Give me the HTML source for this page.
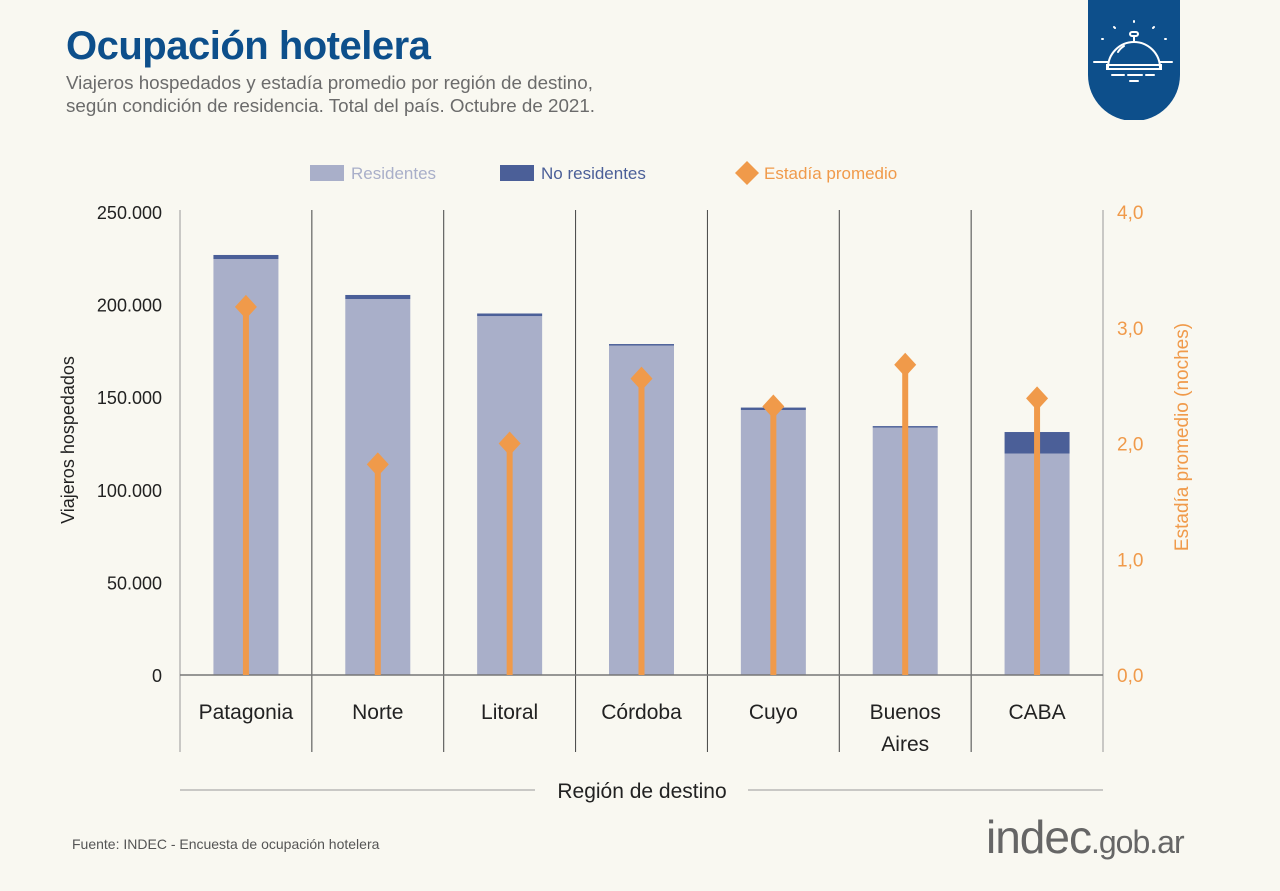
<!DOCTYPE html>
<html><head><meta charset="utf-8"><style>
body{margin:0;width:1280px;height:891px;background:#f9f8f1;font-family:"Liberation Sans",sans-serif;overflow:hidden;position:relative}
.t{position:absolute;white-space:nowrap}
</style></head><body>
<div class="t" style="left:66px;top:24px;font-size:40px;font-weight:bold;color:#0d4f8b;letter-spacing:-0.5px">Ocupación hotelera</div>
<div class="t" style="left:66px;top:71px;font-size:18.8px;color:#6b6b6b;line-height:23px">Viajeros hospedados y estadía promedio por región de destino,<br>según condición de residencia. Total del país. Octubre de 2021.</div>
<svg style="position:absolute;left:1088px;top:0" width="92" height="120" viewBox="0 0 92 120">
<path d="M0 0H92V75A46 46 0 0 1 0 75Z" fill="#0d4f8b"/>
<g stroke="#fff" stroke-width="2" fill="none" stroke-linecap="round">
<path d="M20 68A26 26 0 0 1 72 68"/><rect x="19" y="65" width="54" height="4"/>
<path d="M6 62H20M72 62H84M24 75H36M40 75H54M58 75H66M42 81H50"/>
<rect x="42" y="32" width="8" height="4" rx="2"/><path d="M46 36V42"/>
<path d="M14 39l1 0M26 27l1 1M46 21v1M66 27l-1 1M78 39h-1"/><path d="M30 52A18 18 0 0 1 36 46"/>
</g></svg>
<svg id="chart" style="position:absolute;left:0;top:0" width="1280" height="891"></svg>
<div class="t" style="left:72px;top:836px;font-size:14px;color:#555">Fuente: INDEC - Encuesta de ocupación hotelera</div>
<div class="t" style="left:986px;top:810px;font-size:46px;color:#666;letter-spacing:-1px">indec<span style="font-size:32px">.gob.ar</span></div>
<script>
const categories=["Patagonia","Norte","Litoral","Córdoba","Cuyo","Buenos|Aires","CABA"];
const residentes=[224600,203000,193800,177900,143100,133600,119600];
const noResidentes=[2200,2200,1400,800,1300,800,11600];
const estadia=[3.18,1.82,2.0,2.56,2.32,2.68,2.39];
const yTicks=[0,50000,100000,150000,200000,250000];
const y2Ticks=[0,1,2,3,4];
const NS="http://www.w3.org/2000/svg",svg=document.getElementById('chart');
const X0=180,X1=1103,Y0=675,Y1=212;
const y=v=>Y0-(v/250000)*(Y0-Y1), y2=v=>Y0-(v/4)*(Y0-Y1);
const cw=(X1-X0)/categories.length, xc=i=>X0+cw*(i+0.5);
function mk(t,a,txt){const e=document.createElementNS(NS,t);for(const k in a)e.setAttribute(k,a[k]);if(txt!=null)e.textContent=txt;svg.appendChild(e);return e;}
const fmt=v=>v.toLocaleString('de-DE');
let e;
e=mk('rect',{x:310,y:165,width:34,height:16,fill:'#a9afc9'});
e=mk('text',{x:351,y:179,'font-size':17,fill:'#a9afc9'},'Residentes');
e=mk('rect',{x:500,y:165,width:34,height:16,fill:'#4b5f98'});
e=mk('text',{x:541,y:179,'font-size':17,fill:'#4b5f98'},'No residentes');
e=mk('path',{d:'M747 161L759 173L747 185L735 173Z',fill:'#f09a4a'});
e=mk('text',{x:764,y:179,'font-size':17,fill:'#f09a4a'},'Estadía promedio');
for(let i=0;i<=categories.length;i++){const x=X0+cw*i;e=mk('line',{x1:x,x2:x,y1:210,y2:752,stroke:(i==0||i==categories.length)?'#999':'#444','stroke-width':1});}
yTicks.forEach(v=>{e=mk('text',{x:162,y:y(v)+7,'font-size':18,'text-anchor':'end',fill:'#222'},fmt(v));});
y2Ticks.forEach(v=>{e=mk('text',{x:1117,y:y2(v)+7,'font-size':19,fill:'#f09a4a'},v.toFixed(1).replace('.',','));});
e=mk('text',{transform:'translate(74,440) rotate(-90)','font-size':18,'text-anchor':'middle',fill:'#222'},'Viajeros hospedados');
e=mk('text',{transform:'translate(1188,437) rotate(-90)','font-size':19,'text-anchor':'middle',fill:'#f09a4a'},'Estadía promedio (noches)');
categories.forEach((c,i)=>{const bx=xc(i)-32.5;
e=mk('rect',{x:bx,y:y(residentes[i]),width:65,height:Y0-y(residentes[i]),fill:'#a9afc9'});
e=mk('rect',{x:bx,y:y(residentes[i]+noResidentes[i]),width:65,height:y(residentes[i])-y(residentes[i]+noResidentes[i]),fill:'#4b5f98'});
const lines=c.split('|');lines.forEach((l,j)=>{e=mk('text',{x:xc(i),y:719+j*32,'font-size':21,'text-anchor':'middle',fill:'#222'},l);});
});
e=mk('line',{x1:X0,x2:X1,y1:Y0,y2:Y0,stroke:'#777','stroke-width':1.5});
categories.forEach((c,i)=>{const x=xc(i),yy=y2(estadia[i]);
e=mk('line',{x1:x,x2:x,y1:Y0,y2:yy,stroke:'#f09a4a','stroke-width':6});
e=mk('path',{d:`M${x} ${yy-12}L${x+11} ${yy}L${x} ${yy+12}L${x-11} ${yy}Z`,fill:'#f09a4a'});});
e=mk('line',{x1:180,x2:535,y1:790,y2:790,stroke:'#999'});
e=mk('line',{x1:748,x2:1103,y1:790,y2:790,stroke:'#999'});
e=mk('text',{x:642,y:798,'font-size':21,'text-anchor':'middle',fill:'#222'},'Región de destino');
</script>
</body></html>
